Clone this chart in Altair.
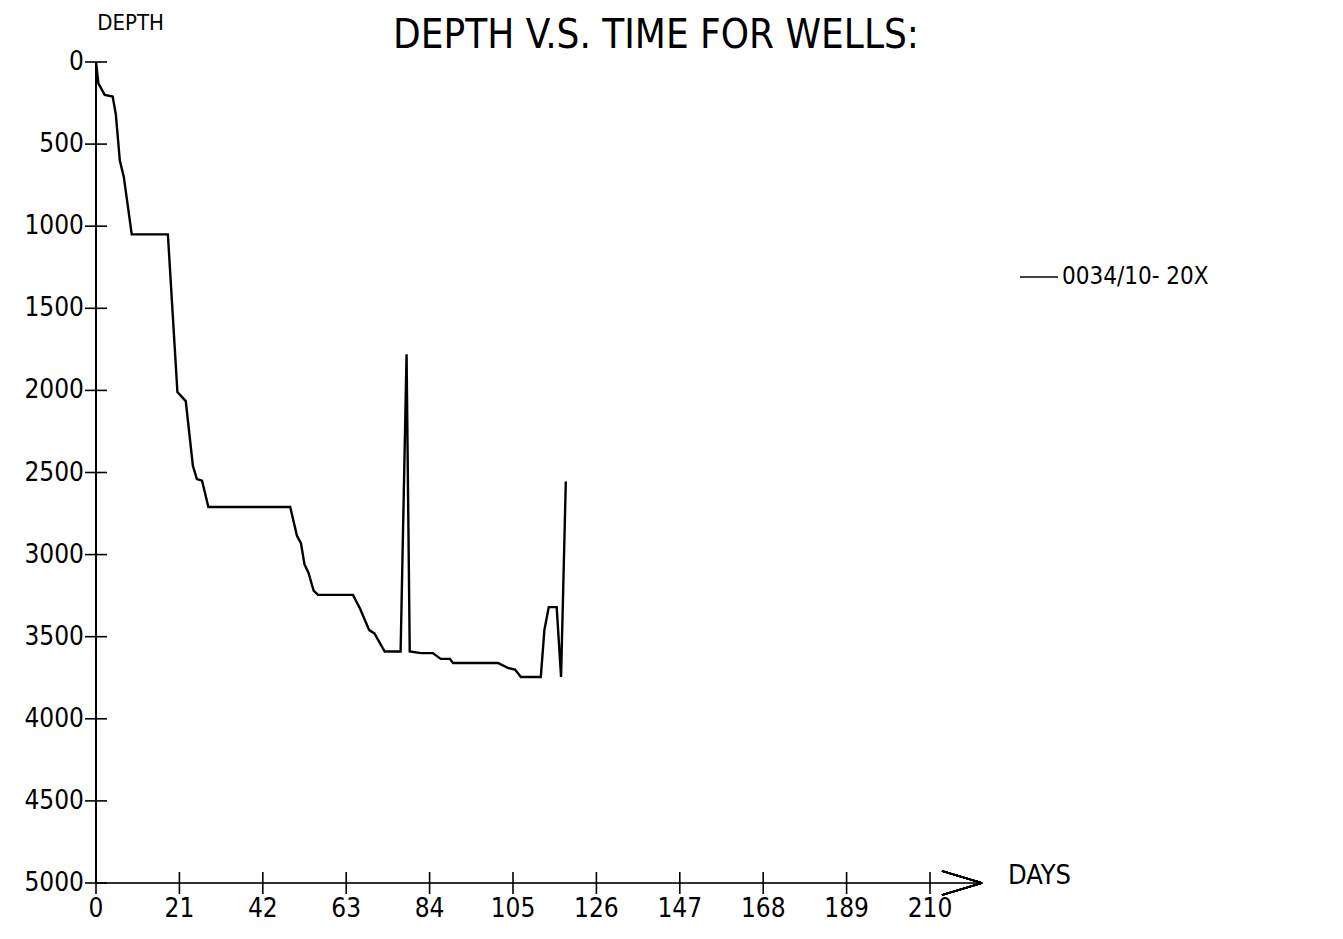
import altair as alt
import pandas as pd

# Well 0034/10-20X : depth vs time
days = [0, 0.6, 2.2, 4.2, 5.0, 6.0, 7.0, 9.0, 18.1, 20.5, 22.6, 24.4, 25.4, 26.7,
        28.3, 48.9, 50.6, 51.6, 52.5, 53.5, 54.8, 55.9, 64.7, 66.5, 68.8, 70.1,
        72.7, 76.7, 78.2, 79.0, 81.8, 84.8, 86.8, 89.1, 89.9, 101.2, 103.7, 105.5,
        107.0, 112.0, 112.9, 114.0, 116.0, 117.1, 118.3]
depths = [0, 130, 200, 210, 320, 600, 700, 1050, 1050, 2010, 2065, 2460, 2540, 2550,
          2710, 2710, 2885, 2930, 3060, 3110, 3220, 3245, 3245, 3330, 3460, 3480,
          3590, 3590, 1780, 3590, 3600, 3600, 3635, 3635, 3660, 3660, 3690, 3700,
          3745, 3745, 3460, 3320, 3320, 3745, 2555]

x_ticks = [0, 21, 42, 63, 84, 105, 126, 147, 168, 189, 210]
y_ticks = [0, 500, 1000, 1500, 2000, 2500, 3000, 3500, 4000, 4500, 5000]

title_text = "DEPTH V.S. TIME FOR WELLS:"
y_label = "DEPTH"
x_label = "DAYS"
legend_label = "0034/10- 20X"

W, H = 834, 821
FONT = "Liberation Sans Narrow, DejaVu Sans Condensed, DejaVu Sans"

well = pd.DataFrame({"day": days, "depth": depths, "order": list(range(len(days)))})
xt = pd.DataFrame({"v": x_ticks})
yt = pd.DataFrame({"v": y_ticks})

xs = alt.Scale(domain=[0, 210], nice=False, zero=False)
ys = alt.Scale(domain=[0, 5000], nice=False, reverse=True)

line = alt.Chart(well).mark_line(color="black", strokeWidth=2.4).encode(
    x=alt.X("day:Q", scale=xs, axis=None),
    y=alt.Y("depth:Q", scale=ys, axis=None),
    order="order:Q",
)

y_axis_line = alt.Chart(yt).mark_rule(color="black", strokeWidth=1.6).encode(
    x=alt.value(0), y=alt.value(0), y2=alt.value(H)
)
x_axis_line = alt.Chart(xt).mark_rule(color="#333333", strokeWidth=1.4).encode(
    x=alt.value(0), x2=alt.value(886), y=alt.value(H)
)
arrow_up = alt.Chart(xt).mark_rule(color="black", strokeWidth=1.6).encode(
    x=alt.value(846), y=alt.value(H - 12), x2=alt.value(886), y2=alt.value(H)
)
arrow_dn = alt.Chart(xt).mark_rule(color="black", strokeWidth=1.6).encode(
    x=alt.value(846), y=alt.value(H + 12), x2=alt.value(886), y2=alt.value(H)
)

y_tick_marks = alt.Chart(yt).mark_rule(color="black", strokeWidth=1.6).encode(
    y=alt.Y("v:Q", scale=ys, axis=None), x=alt.value(-11), x2=alt.value(11)
)
y_tick_labels = alt.Chart(yt).mark_text(
    align="right", baseline="middle", font=FONT, fontSize=26, color="black", dx=-12
).encode(y=alt.Y("v:Q", scale=ys, axis=None), x=alt.value(0), text="v:Q")

x_tick_marks = alt.Chart(xt).mark_rule(color="black", strokeWidth=1.6).encode(
    x=alt.X("v:Q", scale=xs, axis=None), y=alt.value(H - 11), y2=alt.value(H + 11)
)
x_tick_labels = alt.Chart(xt).mark_text(
    align="center", baseline="top", font=FONT, fontSize=26, color="black"
).encode(x=alt.X("v:Q", scale=xs, axis=None), y=alt.value(H + 13), text="v:Q")

one = pd.DataFrame({"t": [0]})
title = alt.Chart(one).mark_text(
    align="center", baseline="alphabetic", font=FONT, fontSize=40, color="black"
).encode(x=alt.value(560), y=alt.value(-14), text=alt.value(title_text))
ylab = alt.Chart(one).mark_text(
    align="right", baseline="alphabetic", font=FONT, fontSize=22, color="black"
).encode(x=alt.value(68), y=alt.value(-32), text=alt.value(y_label))
xlab = alt.Chart(one).mark_text(
    align="left", baseline="alphabetic", font=FONT, fontSize=27, color="black"
).encode(x=alt.value(912), y=alt.value(H + 1), text=alt.value(x_label))

leg_line = alt.Chart(one).mark_rule(color="black", strokeWidth=1.4).encode(
    x=alt.value(924), x2=alt.value(962), y=alt.value(215)
)
leg_text = alt.Chart(one).mark_text(
    align="left", baseline="middle", font=FONT, fontSize=24, color="black"
).encode(x=alt.value(966), y=alt.value(215), text=alt.value(legend_label))

chart = alt.layer(
    y_axis_line, x_axis_line, arrow_up, arrow_dn,
    y_tick_marks, y_tick_labels, x_tick_marks, x_tick_labels,
    line, title, ylab, xlab, leg_line, leg_text,
).properties(
    width=W, height=H,
    background="white",
    autosize=alt.AutoSizeParams(type="none"),
    padding={"left": 88, "top": 54, "right": 405, "bottom": 50},
).configure_view(strokeWidth=0, stroke=None)

chart.save("out.html", embed_options={"renderer": "svg", "actions": False})
